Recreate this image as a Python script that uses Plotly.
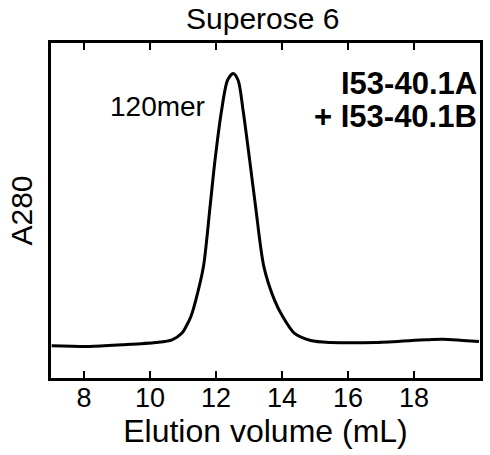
import plotly.graph_objects as go

# Elution volume (mL) and absorbance (arbitrary units)
volume_ml = [7.02, 8.17, 9.17, 10.17, 10.67, 10.97, 11.12, 11.24, 11.39, 11.62,
             11.82, 11.97, 12.17, 12.35, 12.52, 12.67, 12.82, 13.02, 13.20,
             13.45, 13.77, 14.02, 14.37, 14.87, 15.47, 16.87, 18.37, 18.87,
             19.47, 19.97]
a280 = [32.3, 31.6, 33.3, 35.6, 38.3, 45.0, 53.3, 61.6, 78.3, 111.6,
        171.6, 218.3, 268.3, 298.3, 305.0, 298.3, 268.3, 218.3, 171.6,
        111.6, 78.3, 61.6, 45.0, 37.6, 35.6, 35.6, 38.3, 38.8,
        37.6, 36.6]

x_ticks = [8, 10, 12, 14, 16, 18]

FONT = "Liberation Sans, Arial, sans-serif"

fig = go.Figure()
fig.add_trace(go.Scatter(
    x=volume_ml, y=a280, mode="lines",
    line=dict(color="black", width=3, shape="spline", smoothing=0.8),
    hoverinfo="skip", showlegend=False,
))

W, H = 490, 455
L, R, T, B = 51, 7, 43, 77

def px(xp):
    return (xp - L) / (W - L - R)

def py(yp):
    return (H - B - yp) / (H - T - B)

fig.update_layout(
    width=W, height=H,
    margin=dict(l=L, r=R, t=T, b=B),
    paper_bgcolor="white", plot_bgcolor="white",
    font=dict(family=FONT, color="black", size=26),
    xaxis=dict(
        range=[7, 20], tickvals=x_ticks, ticktext=[str(v) for v in x_ticks],
        ticks="inside", ticklen=7, tickwidth=2, tickcolor="black",
        showline=True, linecolor="black", linewidth=3, mirror="ticks",
        showgrid=False, zeroline=False,
        ticklabelstandoff=-6,
        tickfont=dict(size=27, family=FONT),
        title=dict(text="Elution volume (mL)", font=dict(size=32, family=FONT), standoff=7),
    ),
    yaxis=dict(
        range=[0, 335.6], showticklabels=False, ticks="",
        showline=True, linecolor="black", linewidth=3, mirror=True,
        showgrid=False, zeroline=False,
        title=dict(text="A280", font=dict(size=30, family=FONT), standoff=7),
    ),
    annotations=[
        dict(text="Superose 6", xref="paper", yref="paper", x=px(264), y=py(0),
             xanchor="center", yanchor="top", showarrow=False,
             font=dict(size=30, family=FONT)),
        dict(text="120mer", xref="paper", yref="paper", x=px(208), y=py(106),
             xanchor="right", yanchor="middle", showarrow=False,
             font=dict(size=28, family=FONT)),
        dict(text="<b>I53-40.1A</b>", xref="paper", yref="paper", x=px(482), y=py(83),
             xanchor="right", yanchor="middle", showarrow=False,
             font=dict(size=31, family=FONT)),
        dict(text="<b>+ I53-40.1B</b>", xref="paper", yref="paper", x=px(482), y=py(116),
             xanchor="right", yanchor="middle", showarrow=False,
             font=dict(size=31, family=FONT)),
    ],
)

fig.write_html("out.html")
